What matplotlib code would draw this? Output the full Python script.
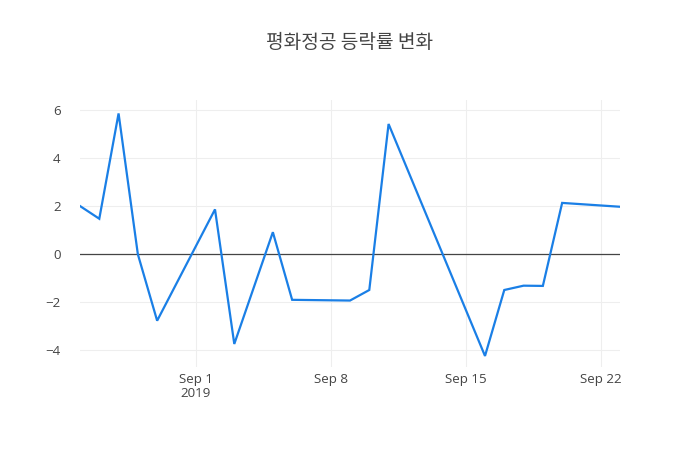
import matplotlib
matplotlib.use("Agg")
import matplotlib.pyplot as plt
import matplotlib.dates as mdates
import numpy as np
import datetime as dt

dates = ["2019-08-26", "2019-08-27", "2019-08-28", "2019-08-29", "2019-08-30",
         "2019-09-02", "2019-09-03", "2019-09-05", "2019-09-06", "2019-09-09",
         "2019-09-10", "2019-09-11", "2019-09-16", "2019-09-17", "2019-09-18",
         "2019-09-19", "2019-09-20", "2019-09-23"]
changes = [2.01, 1.48, 5.87, 0.0, -2.77, 1.87, -3.74, 0.92, -1.90, -1.93,
           -1.49, 5.43, -4.24, -1.49, -1.31, -1.32, 2.14, 1.98]
title = "평화정공 등락률 변화"
tick_dates = ["2019-09-01", "2019-09-08", "2019-09-15", "2019-09-22"]
tick_labels = ["Sep 1\n2019", "Sep 8", "Sep 15", "Sep 22"]

x = [dt.datetime.strptime(d, "%Y-%m-%d") for d in dates]
tx = [dt.datetime.strptime(d, "%Y-%m-%d") for d in tick_dates]

fig = plt.figure(figsize=(7, 4.5), dpi=100)
W, H = 700, 450
ax = fig.add_axes([80 / W, (H - 367) / H, 540 / W, 267 / H])

ax.plot(x, changes, color="#1a7fe6", linewidth=1.6, solid_joinstyle="miter", zorder=3)
ax.axhline(0, color="#444444", linewidth=0.9, zorder=2)

ax.set_xlim(x[0], x[-1])
ax.set_ylim(-4.70, 6.43)
ax.set_yticks([-4, -2, 0, 2, 4, 6])
ax.set_yticklabels(["\u22124", "\u22122", "0", "2", "4", "6"])
ax.set_xticks(tx)
ax.set_xticklabels(tick_labels, linespacing=1.1)

ax.grid(True, color="#eeeeee", linewidth=0.8, zorder=0)
for s in ax.spines.values():
    s.set_visible(False)
ax.tick_params(length=0, labelsize=9.6, labelcolor="#444444", pad=4)
for lab in ax.get_xticklabels() + ax.get_yticklabels():
    lab.set_family(["Open Sans", "DejaVu Sans"])
ax.tick_params(axis="y", pad=14)

fig.text(350 / W, 1 - 43 / H, title, ha="center", va="center", fontsize=13.8,
         color="#444444", family=["Noto Sans CJK KR", "DejaVu Sans"])

fig.savefig("out.png", dpi=100, facecolor="white")
